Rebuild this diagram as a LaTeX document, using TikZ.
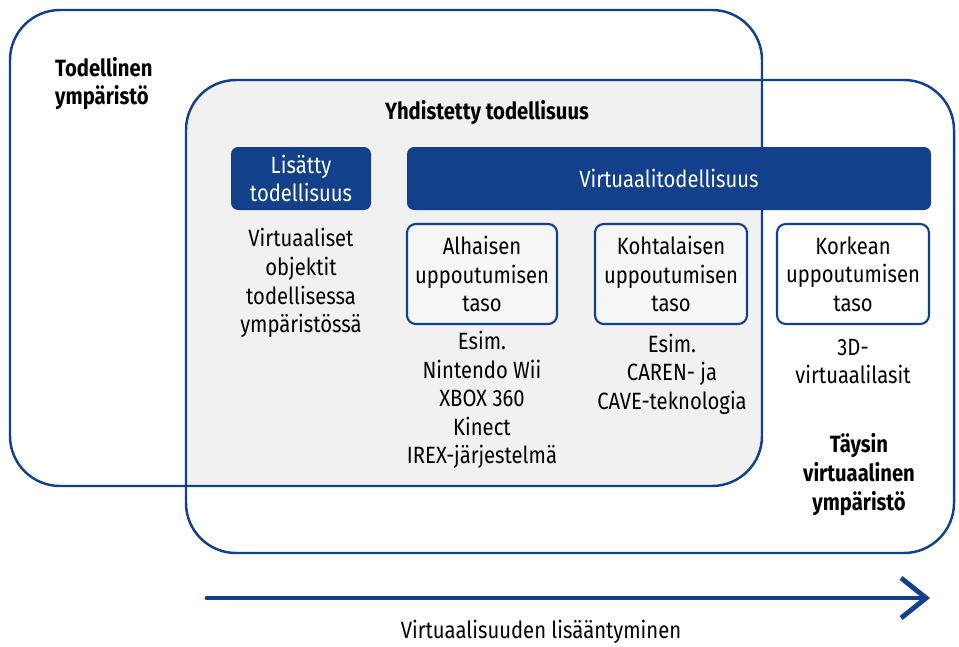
\documentclass[tikz,border=0pt]{standalone}
\usepackage{fontspec}
\setmainfont{Fira Sans}[FakeStretch=0.86]
\usetikzlibrary{arrows.meta}
\definecolor{vrblue}{HTML}{12408A}
\definecolor{mixgray}{HTML}{F1F1F1}
\definecolor{levelgray}{HTML}{F7F7F7}
\begin{document}
\begin{tikzpicture}[font=\fontsize{13.4}{16.3}\selectfont]
    \tikzstyle{env}=[draw=vrblue,line width=1.4pt,rounded corners=1cm];
    \tikzstyle{bluebox}=[rectangle,rounded corners=4pt,fill=vrblue,text=white,align=center,minimum height=1.26cm];
    \tikzstyle{level}=[rectangle,draw=vrblue,line width=1.2pt,rounded corners=5pt,align=center,minimum height=2cm,minimum width=3cm];
    \tikzstyle{example}=[align=center];
    \tikzstyle{envlabel}=[font=\fontsize{13.4}{16.3}\selectfont\bfseries,align=center];

    \useasboundingbox (0,0) rectangle (19.18,12.92);

    \begin{scope}
        \clip[rounded corners=1cm] (0.2,3.2) rectangle (15.24,12.72);
        \fill[mixgray,rounded corners=1cm] (3.72,1.86) rectangle (19.08,11.32);
    \end{scope}
    \draw[env] (0.2,3.2) rectangle (15.24,12.72);
    \draw[env] (3.72,1.86) rectangle (19.08,11.32);

    \node[envlabel,anchor=west,align=left] (real) at (0.98,11.25) {Todellinen\\ympäristö};
    \node[envlabel] (mixed) at (9.74,10.66) {Yhdistetty todellisuus};
    \node[envlabel] (virtual) at (17.18,3.43) {Täysin\\virtuaalinen\\ympäristö};

    \node[bluebox,minimum width=2.8cm] (ar) at (6.02,9.35) {Lisätty\\todellisuus};
    \node[bluebox,minimum width=10.48cm] (vr) at (13.38,9.35) {Virtuaalitodellisuus};

    \node[level,fill=levelgray] (low) at (9.64,7.44) {Alhaisen\\uppoutumisen\\taso};
    \node[level,fill=levelgray,minimum width=3.04cm] (mid) at (13.42,7.44) {Kohtalaisen\\uppoutumisen\\taso};
    \node[level,fill=white,minimum width=3.04cm] (high) at (17.06,7.44) {Korkean\\uppoutumisen\\taso};

    \node[example] (arex) at (6.02,7.26) {Virtuaaliset\\objektit\\todellisessa\\ympäristössä};
    \node[example] (lowex) at (9.64,4.92) {Esim.\\Nintendo Wii\\XBOX 360\\Kinect\\IREX-järjestelmä};
    \node[example] (midex) at (13.44,5.44) {Esim.\\CAREN- ja\\CAVE-teknologia};
    \node[example] (highex) at (17.06,5.69) {3D-\\virtuaalilasit};

    \coordinate (from) at (4.14,0.96);
    \coordinate (to) at (18.6,0.96);
    \draw[vrblue,line width=2.8pt,line cap=round,-{Straight Barb[length=0.5cm,width=0.8cm,line width=2.8pt]}] (from) -- (to);
    \node (grow) at (10.82,0.28) {Virtuaalisuuden lisääntyminen};
\end{tikzpicture}
\end{document}
